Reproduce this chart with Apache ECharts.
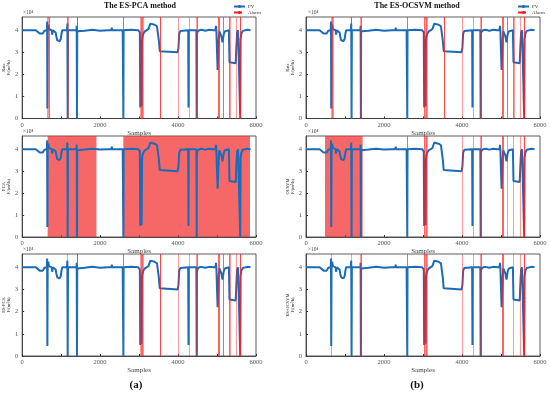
<!DOCTYPE html>
<html><head><meta charset="utf-8">
<script src="https://cdn.jsdelivr.net/npm/echarts@6/dist/echarts.min.js"></script>
<style>html,body{margin:0;padding:0;background:#fff}#c{width:550px;height:393px}</style>
</head><body><div id="c"></div>
<script>
// ---- data (values in units of 10^4 m³/h) ----
const sampleIdx = [0,350,400,450,490,530,570,600,635,641,647,655,670,690,720,760,770,780,790,830,860,880,900,930,960,990,1010,1030,1150,1160,1168,1176,1395,1400,1407,1414,1440,1600,1800,2000,2200,2290,2300,2310,2580,2591,2597,2603,2620,2800,2980,3000,3020,3030,3040,3055,3065,3075,3085,3110,3150,3200,3240,3270,3290,3330,3400,3460,3490,3510,3530,3550,3990,4010,4030,4060,4100,4260,4268,4275,4282,4470,4478,4482,4490,4510,4540,4600,4700,4800,4900,4960,4975,4985,5000,5015,5035,5045,5060,5075,5095,5115,5140,5155,5170,5200,5230,5305,5320,5340,5480,5495,5515,5540,5585,5591,5595,5605,5625,5660,5700,5780,5860];
const pvValue   = [4.0,4.0,3.97,3.85,3.8,3.85,3.98,4.0,4.0,4.4,0.45,4.1,4.25,4.05,4.0,4.0,3.8,3.85,4.0,4.0,3.9,3.7,3.55,3.5,3.5,3.6,3.85,4.0,4.0,4.3,0,4.0,4.0,4.2,0,3.95,4.02,3.98,4.02,3.98,4.0,4.0,4.12,4.0,4.0,4.0,0,4.0,3.97,4.02,4.0,3.98,3.9,0.5,3.6,3.4,0.55,3.5,3.7,3.85,3.95,4.0,4.05,4.2,4.3,4.3,4.25,4.18,4.1,3.5,3.05,3.0,3.0,3.2,3.85,3.97,4.0,4.0,0.5,4.0,4.0,4.0,0,3.7,3.9,3.97,4.0,4.02,3.98,4.02,4.0,4.0,4.2,3.9,3.0,2.2,2.15,3.6,3.95,4.0,3.95,3.7,3.45,3.5,3.8,3.95,4.0,4.0,2.55,2.5,2.5,3.2,3.9,4.0,3.98,3.98,0,3.6,3.85,3.97,4.0,4.02,4.0];

const xTickLabels = [0, 2000, 4000, 6000];
const yTickLabels = [0, 1, 2, 3, 4];

const rateAlarmLines = [645,665,685,705,1164,1168,1172,1403,1407,1411,2595,2599,3030,3044,3058,3072,3086,3100,3544,3548,3552,4004,4285,4478,4482,4486,5026,5038,5050,5060,5153,5157,5322,5326,5330,5500,5591,5595,5599];
const pcaAlarmBands = [[655,1906],[2596,5846]];
const esPcaAlarmLines = [1168,1403,1407,1411,2595,2599,3030,3044,3058,3072,3086,3100,3544,3548,3552,4004,4285,4478,4482,4486,5026,5038,5050,5060,5153,5157,5322,5326,5330,5500,5591,5595,5599];
const ocsvmAlarmBands = [[487,1453]];
const ocsvmAlarmLines = [2595,2599,3030,3044,3058,3072,3086,3100,4004,4285,4478,4482,4486,5026,5038,5050,5060,5157,5326,5500,5591,5595,5599];
const esOcsvmAlarmLines = [645,1168,1403,1407,1411,2595,2599,3030,3044,3058,3072,3086,3100,4004,4285,4478,4482,4486,5026,5038,5050,5060,5326,5500,5591,5595,5599];

const titles = ['The ES-PCA method', 'The ES-OCSVM method'];
const panelLabels = ['(a)', '(b)'];

// ---- layout ----
const panels = [
  {col:0,row:0,name:'Rate',lines:rateAlarmLines,bands:[]},
  {col:0,row:1,name:'PCA',lines:[],bands:pcaAlarmBands},
  {col:0,row:2,name:'ES-PCA',lines:esPcaAlarmLines,bands:[]},
  {col:1,row:0,name:'Rate',lines:rateAlarmLines,bands:[]},
  {col:1,row:1,name:'OCSVM',lines:ocsvmAlarmLines,bands:ocsvmAlarmBands},
  {col:1,row:2,name:'ES-OCSVM',lines:esOcsvmAlarmLines,bands:[]}
];
const colLeft = [21, 306], colWidth = [235, 234];
const rowTop = [17, 136, 254], rowHeight = [101.5, 101, 102];
const FONT = 'Liberation Serif';
const pvData = sampleIdx.map((s,i)=>[s, pvValue[i]]);

const grids=[], xAxes=[], yAxes=[], series=[], graphics=[];
panels.forEach((p,i)=>{
  grids.push({left:colLeft[p.col], top:rowTop[p.row], width:colWidth[p.col], height:rowHeight[p.row],
    show:true, borderColor:'#333', borderWidth:0.8, backgroundColor:'transparent', containLabel:false});
  xAxes.push({type:'value', gridIndex:i, min:0, max:6000, interval:2000,
    name:'Samples', nameLocation:'middle', nameGap:11,
    nameTextStyle:{fontFamily:FONT, fontSize:7, color:'#444'},
    axisLine:{show:true, onZero:false, lineStyle:{color:'#333', width:0.8}},
    axisTick:{show:true, inside:true, length:2, lineStyle:{color:'#333'}},
    minorTick:{show:true, splitNumber:2, length:2, lineStyle:{color:'#333'}},
    splitLine:{show:false},
    axisLabel:{fontFamily:FONT, fontSize:6.5, color:'#555', margin:3,
      formatter:v=>xTickLabels.includes(v)?String(v):''}});
  yAxes.push({type:'value', gridIndex:i, min:0, max:4.6, interval:1,
    name:p.name+'\nF/(m³/h)', nameLocation:'middle', nameGap:11, nameRotate:90,
    nameTextStyle:{fontFamily:FONT, fontSize:4.5, lineHeight:5, color:'#333'},
    axisLine:{show:true, lineStyle:{color:'#333', width:0.8}},
    axisTick:{show:true, inside:true, length:2, lineStyle:{color:'#333'}},
    splitLine:{show:false},
    axisLabel:{fontFamily:FONT, fontSize:6.5, color:'#555', margin:4, showMaxLabel:false,
      formatter:v=>yTickLabels.includes(v)?String(v):''}});
  series.push({name:'PV', type:'line', xAxisIndex:i, yAxisIndex:i, data:pvData,
    showSymbol:false, symbol:'none', z:2, animation:false,
    lineStyle:{color:'#1a6bb8', width:2}, itemStyle:{color:'#1a6bb8'}});
  series.push({name:'Alarm', type:'line', xAxisIndex:i, yAxisIndex:i, data:[],
    symbol:'none', z:3, animation:false,
    lineStyle:{color:'#ff1a1a', type:'dashed', width:2}, itemStyle:{color:'#ff1a1a'},
    markLine:{silent:true, symbol:'none', animation:false, label:{show:false},
      lineStyle:{color:'rgba(255,30,30,0.45)', width:1, type:'solid'},
      data:p.lines.map(v=>({xAxis:v}))},
    markArea:{silent:true, animation:false, label:{show:false},
      itemStyle:{color:'rgba(242,45,45,0.72)'},
      data:p.bands.map(b=>[{xAxis:b[0]},{xAxis:b[1]}])}});
  graphics.push({type:'text', left:colLeft[p.col]+2, top:rowTop[p.row]-7,
    style:{text:'×10⁴', font:'5.5px '+FONT, fill:'#444'}});
});
[0,1].forEach(c=>{
  const cx = c===0 ? 140 : 417;
  graphics.push({type:'text', x:cx, y:6, style:{text:titles[c], font:'bold 8px '+FONT, fill:'#111', textAlign:'center', textVerticalAlign:'middle'}});
  graphics.push({type:'text', x:c===0?136:417, y:385, style:{text:panelLabels[c], font:'bold 11px '+FONT, fill:'#111', textAlign:'center', textVerticalAlign:'middle'}});
});

const chart = echarts.init(document.getElementById('c'), null, {renderer:'canvas'});
chart.setOption({
  animation:false,
  backgroundColor:'#fff',
  grid:grids, xAxis:xAxes, yAxis:yAxes, series:series, graphic:graphics,
  legend:[0,1].map(c=>({data:['PV','Alarm'], orient:'vertical', left:c===0?233:517, top:4,
    itemWidth:11, itemHeight:4, itemGap:1, padding:0,
    textStyle:{fontFamily:FONT, fontSize:5, color:'#333', padding:[0,0,0,-2]}}))
});
</script></body></html>
